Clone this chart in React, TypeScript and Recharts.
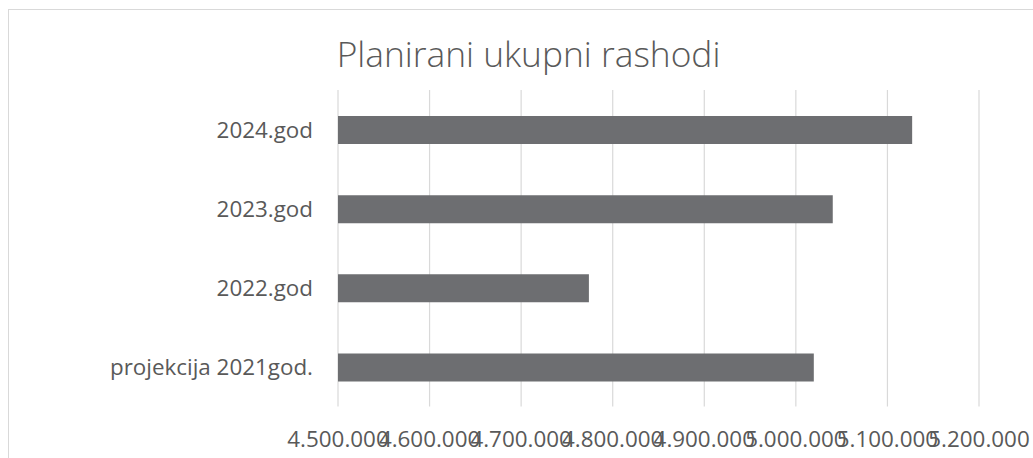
import { BarChart, Bar, XAxis, YAxis, CartesianGrid } from "recharts";

const CATEGORIES = ["projekcija 2021god.", "2022.god", "2023.god", "2024.god"];
const RASHODI = [5019600, 4774000, 5040300, 5127000];
const X_TICKS = [4500000, 4600000, 4700000, 4800000, 4900000, 5000000, 5100000, 5200000];

const TEXT = "#595959";
const GRID = "#d9d9d9";
const BAR = "#6d6e71";
const FONT = "'Open Sans', sans-serif";

const data = CATEGORIES.map((name, i) => ({ name, value: RASHODI[i] }));

// 4500000 -> "4.500.000"
const fmt = (v: number) => String(v).replace(/\B(?=(\d{3})+(?!\d))/g, ".");

export default function App() {
  return (
    <div
      style={{
        position: "fixed",
        left: 0,
        top: 0,
        width: 1033,
        height: 458,
        background: "#fff",
        overflow: "hidden",
        fontFamily: FONT,
      }}
    >
      {/* chart area frame, cut off at the right and bottom */}
      <div
        style={{
          position: "absolute",
          left: 8,
          top: 9,
          width: 1060,
          height: 480,
          border: `1px solid ${GRID}`,
        }}
      />
      <div
        style={{
          position: "absolute",
          left: 528.5,
          top: 35.7,
          transform: "translateX(-50%)",
          whiteSpace: "nowrap",
          fontSize: 35.3,
          lineHeight: 1,
          fontWeight: 300,
          color: TEXT,
        }}
      >
        Planirani ukupni rashodi
      </div>
      <div style={{ position: "absolute", left: 0, top: 0 }}>
        <BarChart
          width={1033}
          height={458}
          data={data}
          layout="vertical"
          margin={{ top: 90, right: 54, bottom: 0, left: 0 }}
          barSize={28}
        >
          <CartesianGrid horizontal={false} stroke={GRID} strokeWidth={1.2} />
          <XAxis
            type="number"
            domain={[4500000, 5200000]}
            ticks={X_TICKS}
            interval={0}
            allowDataOverflow
            tickFormatter={fmt}
            axisLine={false}
            tickLine={false}
            tickSize={0}
            tickMargin={24.5}
            height={51.4}
            tick={{ fill: TEXT, fontSize: 22.4, fontFamily: FONT }}
          />
          <YAxis
            type="category"
            dataKey="name"
            reversed
            width={338}
            axisLine={false}
            tickLine={false}
            tickSize={0}
            tickMargin={25}
            tick={{ fill: TEXT, fontSize: 22.4, fontFamily: FONT }}
          />
          <Bar dataKey="value" fill={BAR} isAnimationActive={false} />
        </BarChart>
      </div>
    </div>
  );
}
